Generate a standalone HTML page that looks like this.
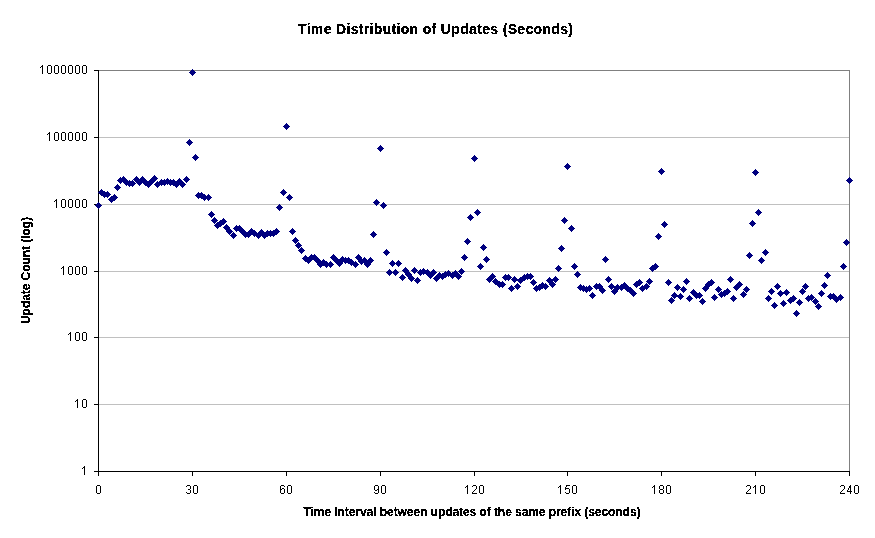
<!DOCTYPE html>
<html><head><meta charset="utf-8"><style>
html,body{margin:0;padding:0;background:#fff;}
svg{display:block;}
#yt{position:absolute;left:16px;top:326px;transform-origin:0 0;transform:rotate(-90deg);will-change:transform;}
text{font-family:"Liberation Sans",sans-serif;fill:#000;}
.lab{font-size:12px;letter-spacing:0.33px;}
.ttl{font-size:14px;font-weight:bold;}
.ax{font-size:12px;font-weight:bold;}
</style></head><body>
<svg width="875" height="538" viewBox="0 0 875 538">
<defs><filter id="al" x="-5%" y="-20%" width="110%" height="140%" color-interpolation-filters="sRGB"><feComponentTransfer><feFuncA type="discrete" tableValues="0 1 1"/></feComponentTransfer></filter></defs>
<rect width="875" height="538" fill="#fff"/>
<line x1="98" y1="70.5" x2="850" y2="70.5" stroke="#808080" stroke-width="1"/>
<line x1="98" y1="137.5" x2="850" y2="137.5" stroke="#C0C0C0" stroke-width="1"/>
<line x1="98" y1="204.5" x2="850" y2="204.5" stroke="#C0C0C0" stroke-width="1"/>
<line x1="98" y1="271.5" x2="850" y2="271.5" stroke="#C0C0C0" stroke-width="1"/>
<line x1="98" y1="337.5" x2="850" y2="337.5" stroke="#C0C0C0" stroke-width="1"/>
<line x1="98" y1="404.5" x2="850" y2="404.5" stroke="#C0C0C0" stroke-width="1"/>
<line x1="849.5" y1="70" x2="849.5" y2="471" stroke="#808080" stroke-width="1"/>
<line x1="98.5" y1="70" x2="98.5" y2="472" stroke="#000" stroke-width="1"/>
<line x1="98" y1="471.5" x2="850" y2="471.5" stroke="#000" stroke-width="1"/>
<line x1="94" y1="70.5" x2="99" y2="70.5" stroke="#000" stroke-width="1"/>
<line x1="94" y1="137.5" x2="99" y2="137.5" stroke="#000" stroke-width="1"/>
<line x1="94" y1="204.5" x2="99" y2="204.5" stroke="#000" stroke-width="1"/>
<line x1="94" y1="271.5" x2="99" y2="271.5" stroke="#000" stroke-width="1"/>
<line x1="94" y1="337.5" x2="99" y2="337.5" stroke="#000" stroke-width="1"/>
<line x1="94" y1="404.5" x2="99" y2="404.5" stroke="#000" stroke-width="1"/>
<line x1="94" y1="471.5" x2="99" y2="471.5" stroke="#000" stroke-width="1"/>
<line x1="98.5" y1="471" x2="98.5" y2="476" stroke="#000" stroke-width="1"/>
<line x1="192.5" y1="471" x2="192.5" y2="476" stroke="#000" stroke-width="1"/>
<line x1="286.5" y1="471" x2="286.5" y2="476" stroke="#000" stroke-width="1"/>
<line x1="380.5" y1="471" x2="380.5" y2="476" stroke="#000" stroke-width="1"/>
<line x1="474.5" y1="471" x2="474.5" y2="476" stroke="#000" stroke-width="1"/>
<line x1="567.5" y1="471" x2="567.5" y2="476" stroke="#000" stroke-width="1"/>
<line x1="661.5" y1="471" x2="661.5" y2="476" stroke="#000" stroke-width="1"/>
<line x1="755.5" y1="471" x2="755.5" y2="476" stroke="#000" stroke-width="1"/>
<line x1="849.5" y1="471" x2="849.5" y2="476" stroke="#000" stroke-width="1"/>
<path d="M42 65h1v1h-1zM41 66h2v1h-2zM40 67h1v1h-1zM42 67h1v1h-1zM42 68h1v1h-1zM42 69h1v1h-1zM42 70h1v1h-1zM42 71h1v1h-1zM42 72h1v1h-1zM42 73h1v1h-1zM48 65h3v1h-3zM47 66h1v1h-1zM51 66h1v1h-1zM47 67h1v1h-1zM51 67h1v1h-1zM47 68h1v1h-1zM51 68h1v1h-1zM47 69h1v1h-1zM51 69h1v1h-1zM47 70h1v1h-1zM51 70h1v1h-1zM47 71h1v1h-1zM51 71h1v1h-1zM47 72h1v1h-1zM51 72h1v1h-1zM48 73h3v1h-3zM55 65h3v1h-3zM54 66h1v1h-1zM58 66h1v1h-1zM54 67h1v1h-1zM58 67h1v1h-1zM54 68h1v1h-1zM58 68h1v1h-1zM54 69h1v1h-1zM58 69h1v1h-1zM54 70h1v1h-1zM58 70h1v1h-1zM54 71h1v1h-1zM58 71h1v1h-1zM54 72h1v1h-1zM58 72h1v1h-1zM55 73h3v1h-3zM62 65h3v1h-3zM61 66h1v1h-1zM65 66h1v1h-1zM61 67h1v1h-1zM65 67h1v1h-1zM61 68h1v1h-1zM65 68h1v1h-1zM61 69h1v1h-1zM65 69h1v1h-1zM61 70h1v1h-1zM65 70h1v1h-1zM61 71h1v1h-1zM65 71h1v1h-1zM61 72h1v1h-1zM65 72h1v1h-1zM62 73h3v1h-3zM69 65h3v1h-3zM68 66h1v1h-1zM72 66h1v1h-1zM68 67h1v1h-1zM72 67h1v1h-1zM68 68h1v1h-1zM72 68h1v1h-1zM68 69h1v1h-1zM72 69h1v1h-1zM68 70h1v1h-1zM72 70h1v1h-1zM68 71h1v1h-1zM72 71h1v1h-1zM68 72h1v1h-1zM72 72h1v1h-1zM69 73h3v1h-3zM76 65h3v1h-3zM75 66h1v1h-1zM79 66h1v1h-1zM75 67h1v1h-1zM79 67h1v1h-1zM75 68h1v1h-1zM79 68h1v1h-1zM75 69h1v1h-1zM79 69h1v1h-1zM75 70h1v1h-1zM79 70h1v1h-1zM75 71h1v1h-1zM79 71h1v1h-1zM75 72h1v1h-1zM79 72h1v1h-1zM76 73h3v1h-3zM83 65h3v1h-3zM82 66h1v1h-1zM86 66h1v1h-1zM82 67h1v1h-1zM86 67h1v1h-1zM82 68h1v1h-1zM86 68h1v1h-1zM82 69h1v1h-1zM86 69h1v1h-1zM82 70h1v1h-1zM86 70h1v1h-1zM82 71h1v1h-1zM86 71h1v1h-1zM82 72h1v1h-1zM86 72h1v1h-1zM83 73h3v1h-3zM49 132h1v1h-1zM48 133h2v1h-2zM47 134h1v1h-1zM49 134h1v1h-1zM49 135h1v1h-1zM49 136h1v1h-1zM49 137h1v1h-1zM49 138h1v1h-1zM49 139h1v1h-1zM49 140h1v1h-1zM55 132h3v1h-3zM54 133h1v1h-1zM58 133h1v1h-1zM54 134h1v1h-1zM58 134h1v1h-1zM54 135h1v1h-1zM58 135h1v1h-1zM54 136h1v1h-1zM58 136h1v1h-1zM54 137h1v1h-1zM58 137h1v1h-1zM54 138h1v1h-1zM58 138h1v1h-1zM54 139h1v1h-1zM58 139h1v1h-1zM55 140h3v1h-3zM62 132h3v1h-3zM61 133h1v1h-1zM65 133h1v1h-1zM61 134h1v1h-1zM65 134h1v1h-1zM61 135h1v1h-1zM65 135h1v1h-1zM61 136h1v1h-1zM65 136h1v1h-1zM61 137h1v1h-1zM65 137h1v1h-1zM61 138h1v1h-1zM65 138h1v1h-1zM61 139h1v1h-1zM65 139h1v1h-1zM62 140h3v1h-3zM69 132h3v1h-3zM68 133h1v1h-1zM72 133h1v1h-1zM68 134h1v1h-1zM72 134h1v1h-1zM68 135h1v1h-1zM72 135h1v1h-1zM68 136h1v1h-1zM72 136h1v1h-1zM68 137h1v1h-1zM72 137h1v1h-1zM68 138h1v1h-1zM72 138h1v1h-1zM68 139h1v1h-1zM72 139h1v1h-1zM69 140h3v1h-3zM76 132h3v1h-3zM75 133h1v1h-1zM79 133h1v1h-1zM75 134h1v1h-1zM79 134h1v1h-1zM75 135h1v1h-1zM79 135h1v1h-1zM75 136h1v1h-1zM79 136h1v1h-1zM75 137h1v1h-1zM79 137h1v1h-1zM75 138h1v1h-1zM79 138h1v1h-1zM75 139h1v1h-1zM79 139h1v1h-1zM76 140h3v1h-3zM83 132h3v1h-3zM82 133h1v1h-1zM86 133h1v1h-1zM82 134h1v1h-1zM86 134h1v1h-1zM82 135h1v1h-1zM86 135h1v1h-1zM82 136h1v1h-1zM86 136h1v1h-1zM82 137h1v1h-1zM86 137h1v1h-1zM82 138h1v1h-1zM86 138h1v1h-1zM82 139h1v1h-1zM86 139h1v1h-1zM83 140h3v1h-3zM56 199h1v1h-1zM55 200h2v1h-2zM54 201h1v1h-1zM56 201h1v1h-1zM56 202h1v1h-1zM56 203h1v1h-1zM56 204h1v1h-1zM56 205h1v1h-1zM56 206h1v1h-1zM56 207h1v1h-1zM62 199h3v1h-3zM61 200h1v1h-1zM65 200h1v1h-1zM61 201h1v1h-1zM65 201h1v1h-1zM61 202h1v1h-1zM65 202h1v1h-1zM61 203h1v1h-1zM65 203h1v1h-1zM61 204h1v1h-1zM65 204h1v1h-1zM61 205h1v1h-1zM65 205h1v1h-1zM61 206h1v1h-1zM65 206h1v1h-1zM62 207h3v1h-3zM69 199h3v1h-3zM68 200h1v1h-1zM72 200h1v1h-1zM68 201h1v1h-1zM72 201h1v1h-1zM68 202h1v1h-1zM72 202h1v1h-1zM68 203h1v1h-1zM72 203h1v1h-1zM68 204h1v1h-1zM72 204h1v1h-1zM68 205h1v1h-1zM72 205h1v1h-1zM68 206h1v1h-1zM72 206h1v1h-1zM69 207h3v1h-3zM76 199h3v1h-3zM75 200h1v1h-1zM79 200h1v1h-1zM75 201h1v1h-1zM79 201h1v1h-1zM75 202h1v1h-1zM79 202h1v1h-1zM75 203h1v1h-1zM79 203h1v1h-1zM75 204h1v1h-1zM79 204h1v1h-1zM75 205h1v1h-1zM79 205h1v1h-1zM75 206h1v1h-1zM79 206h1v1h-1zM76 207h3v1h-3zM83 199h3v1h-3zM82 200h1v1h-1zM86 200h1v1h-1zM82 201h1v1h-1zM86 201h1v1h-1zM82 202h1v1h-1zM86 202h1v1h-1zM82 203h1v1h-1zM86 203h1v1h-1zM82 204h1v1h-1zM86 204h1v1h-1zM82 205h1v1h-1zM86 205h1v1h-1zM82 206h1v1h-1zM86 206h1v1h-1zM83 207h3v1h-3zM63 266h1v1h-1zM62 267h2v1h-2zM61 268h1v1h-1zM63 268h1v1h-1zM63 269h1v1h-1zM63 270h1v1h-1zM63 271h1v1h-1zM63 272h1v1h-1zM63 273h1v1h-1zM63 274h1v1h-1zM69 266h3v1h-3zM68 267h1v1h-1zM72 267h1v1h-1zM68 268h1v1h-1zM72 268h1v1h-1zM68 269h1v1h-1zM72 269h1v1h-1zM68 270h1v1h-1zM72 270h1v1h-1zM68 271h1v1h-1zM72 271h1v1h-1zM68 272h1v1h-1zM72 272h1v1h-1zM68 273h1v1h-1zM72 273h1v1h-1zM69 274h3v1h-3zM76 266h3v1h-3zM75 267h1v1h-1zM79 267h1v1h-1zM75 268h1v1h-1zM79 268h1v1h-1zM75 269h1v1h-1zM79 269h1v1h-1zM75 270h1v1h-1zM79 270h1v1h-1zM75 271h1v1h-1zM79 271h1v1h-1zM75 272h1v1h-1zM79 272h1v1h-1zM75 273h1v1h-1zM79 273h1v1h-1zM76 274h3v1h-3zM83 266h3v1h-3zM82 267h1v1h-1zM86 267h1v1h-1zM82 268h1v1h-1zM86 268h1v1h-1zM82 269h1v1h-1zM86 269h1v1h-1zM82 270h1v1h-1zM86 270h1v1h-1zM82 271h1v1h-1zM86 271h1v1h-1zM82 272h1v1h-1zM86 272h1v1h-1zM82 273h1v1h-1zM86 273h1v1h-1zM83 274h3v1h-3zM70 332h1v1h-1zM69 333h2v1h-2zM68 334h1v1h-1zM70 334h1v1h-1zM70 335h1v1h-1zM70 336h1v1h-1zM70 337h1v1h-1zM70 338h1v1h-1zM70 339h1v1h-1zM70 340h1v1h-1zM76 332h3v1h-3zM75 333h1v1h-1zM79 333h1v1h-1zM75 334h1v1h-1zM79 334h1v1h-1zM75 335h1v1h-1zM79 335h1v1h-1zM75 336h1v1h-1zM79 336h1v1h-1zM75 337h1v1h-1zM79 337h1v1h-1zM75 338h1v1h-1zM79 338h1v1h-1zM75 339h1v1h-1zM79 339h1v1h-1zM76 340h3v1h-3zM83 332h3v1h-3zM82 333h1v1h-1zM86 333h1v1h-1zM82 334h1v1h-1zM86 334h1v1h-1zM82 335h1v1h-1zM86 335h1v1h-1zM82 336h1v1h-1zM86 336h1v1h-1zM82 337h1v1h-1zM86 337h1v1h-1zM82 338h1v1h-1zM86 338h1v1h-1zM82 339h1v1h-1zM86 339h1v1h-1zM83 340h3v1h-3zM77 399h1v1h-1zM76 400h2v1h-2zM75 401h1v1h-1zM77 401h1v1h-1zM77 402h1v1h-1zM77 403h1v1h-1zM77 404h1v1h-1zM77 405h1v1h-1zM77 406h1v1h-1zM77 407h1v1h-1zM83 399h3v1h-3zM82 400h1v1h-1zM86 400h1v1h-1zM82 401h1v1h-1zM86 401h1v1h-1zM82 402h1v1h-1zM86 402h1v1h-1zM82 403h1v1h-1zM86 403h1v1h-1zM82 404h1v1h-1zM86 404h1v1h-1zM82 405h1v1h-1zM86 405h1v1h-1zM82 406h1v1h-1zM86 406h1v1h-1zM83 407h3v1h-3zM84 466h1v1h-1zM83 467h2v1h-2zM82 468h1v1h-1zM84 468h1v1h-1zM84 469h1v1h-1zM84 470h1v1h-1zM84 471h1v1h-1zM84 472h1v1h-1zM84 473h1v1h-1zM84 474h1v1h-1zM97 485h3v1h-3zM96 486h1v1h-1zM100 486h1v1h-1zM96 487h1v1h-1zM100 487h1v1h-1zM96 488h1v1h-1zM100 488h1v1h-1zM96 489h1v1h-1zM100 489h1v1h-1zM96 490h1v1h-1zM100 490h1v1h-1zM96 491h1v1h-1zM100 491h1v1h-1zM96 492h1v1h-1zM100 492h1v1h-1zM97 493h3v1h-3zM187 485h3v1h-3zM186 486h1v1h-1zM190 486h1v1h-1zM190 487h1v1h-1zM190 488h1v1h-1zM188 489h2v1h-2zM190 490h1v1h-1zM190 491h1v1h-1zM186 492h1v1h-1zM190 492h1v1h-1zM187 493h3v1h-3zM194 485h3v1h-3zM193 486h1v1h-1zM197 486h1v1h-1zM193 487h1v1h-1zM197 487h1v1h-1zM193 488h1v1h-1zM197 488h1v1h-1zM193 489h1v1h-1zM197 489h1v1h-1zM193 490h1v1h-1zM197 490h1v1h-1zM193 491h1v1h-1zM197 491h1v1h-1zM193 492h1v1h-1zM197 492h1v1h-1zM194 493h3v1h-3zM281 485h3v1h-3zM280 486h1v1h-1zM284 486h1v1h-1zM280 487h1v1h-1zM280 488h1v1h-1zM282 488h2v1h-2zM280 489h2v1h-2zM284 489h1v1h-1zM280 490h1v1h-1zM284 490h1v1h-1zM280 491h1v1h-1zM284 491h1v1h-1zM280 492h1v1h-1zM284 492h1v1h-1zM281 493h3v1h-3zM288 485h3v1h-3zM287 486h1v1h-1zM291 486h1v1h-1zM287 487h1v1h-1zM291 487h1v1h-1zM287 488h1v1h-1zM291 488h1v1h-1zM287 489h1v1h-1zM291 489h1v1h-1zM287 490h1v1h-1zM291 490h1v1h-1zM287 491h1v1h-1zM291 491h1v1h-1zM287 492h1v1h-1zM291 492h1v1h-1zM288 493h3v1h-3zM375 485h3v1h-3zM374 486h1v1h-1zM378 486h1v1h-1zM374 487h1v1h-1zM378 487h1v1h-1zM374 488h1v1h-1zM378 488h1v1h-1zM374 489h1v1h-1zM377 489h2v1h-2zM375 490h2v1h-2zM378 490h1v1h-1zM378 491h1v1h-1zM374 492h1v1h-1zM378 492h1v1h-1zM375 493h3v1h-3zM382 485h3v1h-3zM381 486h1v1h-1zM385 486h1v1h-1zM381 487h1v1h-1zM385 487h1v1h-1zM381 488h1v1h-1zM385 488h1v1h-1zM381 489h1v1h-1zM385 489h1v1h-1zM381 490h1v1h-1zM385 490h1v1h-1zM381 491h1v1h-1zM385 491h1v1h-1zM381 492h1v1h-1zM385 492h1v1h-1zM382 493h3v1h-3zM467 485h1v1h-1zM466 486h2v1h-2zM465 487h1v1h-1zM467 487h1v1h-1zM467 488h1v1h-1zM467 489h1v1h-1zM467 490h1v1h-1zM467 491h1v1h-1zM467 492h1v1h-1zM467 493h1v1h-1zM473 485h3v1h-3zM472 486h1v1h-1zM476 486h1v1h-1zM476 487h1v1h-1zM476 488h1v1h-1zM475 489h1v1h-1zM474 490h1v1h-1zM473 491h1v1h-1zM472 492h1v1h-1zM472 493h5v1h-5zM480 485h3v1h-3zM479 486h1v1h-1zM483 486h1v1h-1zM479 487h1v1h-1zM483 487h1v1h-1zM479 488h1v1h-1zM483 488h1v1h-1zM479 489h1v1h-1zM483 489h1v1h-1zM479 490h1v1h-1zM483 490h1v1h-1zM479 491h1v1h-1zM483 491h1v1h-1zM479 492h1v1h-1zM483 492h1v1h-1zM480 493h3v1h-3zM560 485h1v1h-1zM559 486h2v1h-2zM558 487h1v1h-1zM560 487h1v1h-1zM560 488h1v1h-1zM560 489h1v1h-1zM560 490h1v1h-1zM560 491h1v1h-1zM560 492h1v1h-1zM560 493h1v1h-1zM566 485h4v1h-4zM566 486h1v1h-1zM565 487h1v1h-1zM565 488h4v1h-4zM565 489h1v1h-1zM569 489h1v1h-1zM569 490h1v1h-1zM569 491h1v1h-1zM565 492h1v1h-1zM569 492h1v1h-1zM566 493h3v1h-3zM573 485h3v1h-3zM572 486h1v1h-1zM576 486h1v1h-1zM572 487h1v1h-1zM576 487h1v1h-1zM572 488h1v1h-1zM576 488h1v1h-1zM572 489h1v1h-1zM576 489h1v1h-1zM572 490h1v1h-1zM576 490h1v1h-1zM572 491h1v1h-1zM576 491h1v1h-1zM572 492h1v1h-1zM576 492h1v1h-1zM573 493h3v1h-3zM654 485h1v1h-1zM653 486h2v1h-2zM652 487h1v1h-1zM654 487h1v1h-1zM654 488h1v1h-1zM654 489h1v1h-1zM654 490h1v1h-1zM654 491h1v1h-1zM654 492h1v1h-1zM654 493h1v1h-1zM660 485h3v1h-3zM659 486h1v1h-1zM663 486h1v1h-1zM659 487h1v1h-1zM663 487h1v1h-1zM659 488h1v1h-1zM663 488h1v1h-1zM660 489h3v1h-3zM659 490h1v1h-1zM663 490h1v1h-1zM659 491h1v1h-1zM663 491h1v1h-1zM659 492h1v1h-1zM663 492h1v1h-1zM660 493h3v1h-3zM667 485h3v1h-3zM666 486h1v1h-1zM670 486h1v1h-1zM666 487h1v1h-1zM670 487h1v1h-1zM666 488h1v1h-1zM670 488h1v1h-1zM666 489h1v1h-1zM670 489h1v1h-1zM666 490h1v1h-1zM670 490h1v1h-1zM666 491h1v1h-1zM670 491h1v1h-1zM666 492h1v1h-1zM670 492h1v1h-1zM667 493h3v1h-3zM747 485h3v1h-3zM746 486h1v1h-1zM750 486h1v1h-1zM750 487h1v1h-1zM750 488h1v1h-1zM749 489h1v1h-1zM748 490h1v1h-1zM747 491h1v1h-1zM746 492h1v1h-1zM746 493h5v1h-5zM755 485h1v1h-1zM754 486h2v1h-2zM753 487h1v1h-1zM755 487h1v1h-1zM755 488h1v1h-1zM755 489h1v1h-1zM755 490h1v1h-1zM755 491h1v1h-1zM755 492h1v1h-1zM755 493h1v1h-1zM761 485h3v1h-3zM760 486h1v1h-1zM764 486h1v1h-1zM760 487h1v1h-1zM764 487h1v1h-1zM760 488h1v1h-1zM764 488h1v1h-1zM760 489h1v1h-1zM764 489h1v1h-1zM760 490h1v1h-1zM764 490h1v1h-1zM760 491h1v1h-1zM764 491h1v1h-1zM760 492h1v1h-1zM764 492h1v1h-1zM761 493h3v1h-3zM841 485h3v1h-3zM840 486h1v1h-1zM844 486h1v1h-1zM844 487h1v1h-1zM844 488h1v1h-1zM843 489h1v1h-1zM842 490h1v1h-1zM841 491h1v1h-1zM840 492h1v1h-1zM840 493h5v1h-5zM850 485h1v1h-1zM849 486h2v1h-2zM849 487h2v1h-2zM848 488h1v1h-1zM850 488h1v1h-1zM848 489h1v1h-1zM850 489h1v1h-1zM847 490h1v1h-1zM850 490h1v1h-1zM847 491h5v1h-5zM850 492h1v1h-1zM850 493h1v1h-1zM855 485h3v1h-3zM854 486h1v1h-1zM858 486h1v1h-1zM854 487h1v1h-1zM858 487h1v1h-1zM854 488h1v1h-1zM858 488h1v1h-1zM854 489h1v1h-1zM858 489h1v1h-1zM854 490h1v1h-1zM858 490h1v1h-1zM854 491h1v1h-1zM858 491h1v1h-1zM854 492h1v1h-1zM858 492h1v1h-1zM855 493h3v1h-3z" fill="#000" shape-rendering="crispEdges"/>
<path d="M98 202h1v1h1v1h1v1h1v1h-1v1h-1v1h-1v1h-1v-1h-1v-1h-1v-1h-1v-1h1v-1h1v-1h1zM101 189h1v1h1v1h1v1h1v1h-1v1h-1v1h-1v1h-1v-1h-1v-1h-1v-1h-1v-1h1v-1h1v-1h1zM104 191h1v1h1v1h1v1h1v1h-1v1h-1v1h-1v1h-1v-1h-1v-1h-1v-1h-1v-1h1v-1h1v-1h1zM107 191h1v1h1v1h1v1h1v1h-1v1h-1v1h-1v1h-1v-1h-1v-1h-1v-1h-1v-1h1v-1h1v-1h1zM111 196h1v1h1v1h1v1h1v1h-1v1h-1v1h-1v1h-1v-1h-1v-1h-1v-1h-1v-1h1v-1h1v-1h1zM114 194h1v1h1v1h1v1h1v1h-1v1h-1v1h-1v1h-1v-1h-1v-1h-1v-1h-1v-1h1v-1h1v-1h1zM117 184h1v1h1v1h1v1h1v1h-1v1h-1v1h-1v1h-1v-1h-1v-1h-1v-1h-1v-1h1v-1h1v-1h1zM120 177h1v1h1v1h1v1h1v1h-1v1h-1v1h-1v1h-1v-1h-1v-1h-1v-1h-1v-1h1v-1h1v-1h1zM123 176h1v1h1v1h1v1h1v1h-1v1h-1v1h-1v1h-1v-1h-1v-1h-1v-1h-1v-1h1v-1h1v-1h1zM126 179h1v1h1v1h1v1h1v1h-1v1h-1v1h-1v1h-1v-1h-1v-1h-1v-1h-1v-1h1v-1h1v-1h1zM129 180h1v1h1v1h1v1h1v1h-1v1h-1v1h-1v1h-1v-1h-1v-1h-1v-1h-1v-1h1v-1h1v-1h1zM132 180h1v1h1v1h1v1h1v1h-1v1h-1v1h-1v1h-1v-1h-1v-1h-1v-1h-1v-1h1v-1h1v-1h1zM136 176h1v1h1v1h1v1h1v1h-1v1h-1v1h-1v1h-1v-1h-1v-1h-1v-1h-1v-1h1v-1h1v-1h1zM139 179h1v1h1v1h1v1h1v1h-1v1h-1v1h-1v1h-1v-1h-1v-1h-1v-1h-1v-1h1v-1h1v-1h1zM142 176h1v1h1v1h1v1h1v1h-1v1h-1v1h-1v1h-1v-1h-1v-1h-1v-1h-1v-1h1v-1h1v-1h1zM145 179h1v1h1v1h1v1h1v1h-1v1h-1v1h-1v1h-1v-1h-1v-1h-1v-1h-1v-1h1v-1h1v-1h1zM148 181h1v1h1v1h1v1h1v1h-1v1h-1v1h-1v1h-1v-1h-1v-1h-1v-1h-1v-1h1v-1h1v-1h1zM151 178h1v1h1v1h1v1h1v1h-1v1h-1v1h-1v1h-1v-1h-1v-1h-1v-1h-1v-1h1v-1h1v-1h1zM154 175h1v1h1v1h1v1h1v1h-1v1h-1v1h-1v1h-1v-1h-1v-1h-1v-1h-1v-1h1v-1h1v-1h1zM157 181h1v1h1v1h1v1h1v1h-1v1h-1v1h-1v1h-1v-1h-1v-1h-1v-1h-1v-1h1v-1h1v-1h1zM161 179h1v1h1v1h1v1h1v1h-1v1h-1v1h-1v1h-1v-1h-1v-1h-1v-1h-1v-1h1v-1h1v-1h1zM164 179h1v1h1v1h1v1h1v1h-1v1h-1v1h-1v1h-1v-1h-1v-1h-1v-1h-1v-1h1v-1h1v-1h1zM167 178h1v1h1v1h1v1h1v1h-1v1h-1v1h-1v1h-1v-1h-1v-1h-1v-1h-1v-1h1v-1h1v-1h1zM170 179h1v1h1v1h1v1h1v1h-1v1h-1v1h-1v1h-1v-1h-1v-1h-1v-1h-1v-1h1v-1h1v-1h1zM173 179h1v1h1v1h1v1h1v1h-1v1h-1v1h-1v1h-1v-1h-1v-1h-1v-1h-1v-1h1v-1h1v-1h1zM176 181h1v1h1v1h1v1h1v1h-1v1h-1v1h-1v1h-1v-1h-1v-1h-1v-1h-1v-1h1v-1h1v-1h1zM179 178h1v1h1v1h1v1h1v1h-1v1h-1v1h-1v1h-1v-1h-1v-1h-1v-1h-1v-1h1v-1h1v-1h1zM182 181h1v1h1v1h1v1h1v1h-1v1h-1v1h-1v1h-1v-1h-1v-1h-1v-1h-1v-1h1v-1h1v-1h1zM186 176h1v1h1v1h1v1h1v1h-1v1h-1v1h-1v1h-1v-1h-1v-1h-1v-1h-1v-1h1v-1h1v-1h1zM189 139h1v1h1v1h1v1h1v1h-1v1h-1v1h-1v1h-1v-1h-1v-1h-1v-1h-1v-1h1v-1h1v-1h1zM192 69h1v1h1v1h1v1h1v1h-1v1h-1v1h-1v1h-1v-1h-1v-1h-1v-1h-1v-1h1v-1h1v-1h1zM195 154h1v1h1v1h1v1h1v1h-1v1h-1v1h-1v1h-1v-1h-1v-1h-1v-1h-1v-1h1v-1h1v-1h1zM198 192h1v1h1v1h1v1h1v1h-1v1h-1v1h-1v1h-1v-1h-1v-1h-1v-1h-1v-1h1v-1h1v-1h1zM201 192h1v1h1v1h1v1h1v1h-1v1h-1v1h-1v1h-1v-1h-1v-1h-1v-1h-1v-1h1v-1h1v-1h1zM204 194h1v1h1v1h1v1h1v1h-1v1h-1v1h-1v1h-1v-1h-1v-1h-1v-1h-1v-1h1v-1h1v-1h1zM208 194h1v1h1v1h1v1h1v1h-1v1h-1v1h-1v1h-1v-1h-1v-1h-1v-1h-1v-1h1v-1h1v-1h1zM211 211h1v1h1v1h1v1h1v1h-1v1h-1v1h-1v1h-1v-1h-1v-1h-1v-1h-1v-1h1v-1h1v-1h1zM214 217h1v1h1v1h1v1h1v1h-1v1h-1v1h-1v1h-1v-1h-1v-1h-1v-1h-1v-1h1v-1h1v-1h1zM217 222h1v1h1v1h1v1h1v1h-1v1h-1v1h-1v1h-1v-1h-1v-1h-1v-1h-1v-1h1v-1h1v-1h1zM220 220h1v1h1v1h1v1h1v1h-1v1h-1v1h-1v1h-1v-1h-1v-1h-1v-1h-1v-1h1v-1h1v-1h1zM223 218h1v1h1v1h1v1h1v1h-1v1h-1v1h-1v1h-1v-1h-1v-1h-1v-1h-1v-1h1v-1h1v-1h1zM226 224h1v1h1v1h1v1h1v1h-1v1h-1v1h-1v1h-1v-1h-1v-1h-1v-1h-1v-1h1v-1h1v-1h1zM229 228h1v1h1v1h1v1h1v1h-1v1h-1v1h-1v1h-1v-1h-1v-1h-1v-1h-1v-1h1v-1h1v-1h1zM233 232h1v1h1v1h1v1h1v1h-1v1h-1v1h-1v1h-1v-1h-1v-1h-1v-1h-1v-1h1v-1h1v-1h1zM236 225h1v1h1v1h1v1h1v1h-1v1h-1v1h-1v1h-1v-1h-1v-1h-1v-1h-1v-1h1v-1h1v-1h1zM239 225h1v1h1v1h1v1h1v1h-1v1h-1v1h-1v1h-1v-1h-1v-1h-1v-1h-1v-1h1v-1h1v-1h1zM242 228h1v1h1v1h1v1h1v1h-1v1h-1v1h-1v1h-1v-1h-1v-1h-1v-1h-1v-1h1v-1h1v-1h1zM245 231h1v1h1v1h1v1h1v1h-1v1h-1v1h-1v1h-1v-1h-1v-1h-1v-1h-1v-1h1v-1h1v-1h1zM248 231h1v1h1v1h1v1h1v1h-1v1h-1v1h-1v1h-1v-1h-1v-1h-1v-1h-1v-1h1v-1h1v-1h1zM251 228h1v1h1v1h1v1h1v1h-1v1h-1v1h-1v1h-1v-1h-1v-1h-1v-1h-1v-1h1v-1h1v-1h1zM254 230h1v1h1v1h1v1h1v1h-1v1h-1v1h-1v1h-1v-1h-1v-1h-1v-1h-1v-1h1v-1h1v-1h1zM258 232h1v1h1v1h1v1h1v1h-1v1h-1v1h-1v1h-1v-1h-1v-1h-1v-1h-1v-1h1v-1h1v-1h1zM261 229h1v1h1v1h1v1h1v1h-1v1h-1v1h-1v1h-1v-1h-1v-1h-1v-1h-1v-1h1v-1h1v-1h1zM264 232h1v1h1v1h1v1h1v1h-1v1h-1v1h-1v1h-1v-1h-1v-1h-1v-1h-1v-1h1v-1h1v-1h1zM267 230h1v1h1v1h1v1h1v1h-1v1h-1v1h-1v1h-1v-1h-1v-1h-1v-1h-1v-1h1v-1h1v-1h1zM270 230h1v1h1v1h1v1h1v1h-1v1h-1v1h-1v1h-1v-1h-1v-1h-1v-1h-1v-1h1v-1h1v-1h1zM273 230h1v1h1v1h1v1h1v1h-1v1h-1v1h-1v1h-1v-1h-1v-1h-1v-1h-1v-1h1v-1h1v-1h1zM276 228h1v1h1v1h1v1h1v1h-1v1h-1v1h-1v1h-1v-1h-1v-1h-1v-1h-1v-1h1v-1h1v-1h1zM279 204h1v1h1v1h1v1h1v1h-1v1h-1v1h-1v1h-1v-1h-1v-1h-1v-1h-1v-1h1v-1h1v-1h1zM283 189h1v1h1v1h1v1h1v1h-1v1h-1v1h-1v1h-1v-1h-1v-1h-1v-1h-1v-1h1v-1h1v-1h1zM286 123h1v1h1v1h1v1h1v1h-1v1h-1v1h-1v1h-1v-1h-1v-1h-1v-1h-1v-1h1v-1h1v-1h1zM289 194h1v1h1v1h1v1h1v1h-1v1h-1v1h-1v1h-1v-1h-1v-1h-1v-1h-1v-1h1v-1h1v-1h1zM292 228h1v1h1v1h1v1h1v1h-1v1h-1v1h-1v1h-1v-1h-1v-1h-1v-1h-1v-1h1v-1h1v-1h1zM295 237h1v1h1v1h1v1h1v1h-1v1h-1v1h-1v1h-1v-1h-1v-1h-1v-1h-1v-1h1v-1h1v-1h1zM298 242h1v1h1v1h1v1h1v1h-1v1h-1v1h-1v1h-1v-1h-1v-1h-1v-1h-1v-1h1v-1h1v-1h1zM301 247h1v1h1v1h1v1h1v1h-1v1h-1v1h-1v1h-1v-1h-1v-1h-1v-1h-1v-1h1v-1h1v-1h1zM305 255h1v1h1v1h1v1h1v1h-1v1h-1v1h-1v1h-1v-1h-1v-1h-1v-1h-1v-1h1v-1h1v-1h1zM308 257h1v1h1v1h1v1h1v1h-1v1h-1v1h-1v1h-1v-1h-1v-1h-1v-1h-1v-1h1v-1h1v-1h1zM311 254h1v1h1v1h1v1h1v1h-1v1h-1v1h-1v1h-1v-1h-1v-1h-1v-1h-1v-1h1v-1h1v-1h1zM314 254h1v1h1v1h1v1h1v1h-1v1h-1v1h-1v1h-1v-1h-1v-1h-1v-1h-1v-1h1v-1h1v-1h1zM317 257h1v1h1v1h1v1h1v1h-1v1h-1v1h-1v1h-1v-1h-1v-1h-1v-1h-1v-1h1v-1h1v-1h1zM320 261h1v1h1v1h1v1h1v1h-1v1h-1v1h-1v1h-1v-1h-1v-1h-1v-1h-1v-1h1v-1h1v-1h1zM323 259h1v1h1v1h1v1h1v1h-1v1h-1v1h-1v1h-1v-1h-1v-1h-1v-1h-1v-1h1v-1h1v-1h1zM326 261h1v1h1v1h1v1h1v1h-1v1h-1v1h-1v1h-1v-1h-1v-1h-1v-1h-1v-1h1v-1h1v-1h1zM330 261h1v1h1v1h1v1h1v1h-1v1h-1v1h-1v1h-1v-1h-1v-1h-1v-1h-1v-1h1v-1h1v-1h1zM333 254h1v1h1v1h1v1h1v1h-1v1h-1v1h-1v1h-1v-1h-1v-1h-1v-1h-1v-1h1v-1h1v-1h1zM336 257h1v1h1v1h1v1h1v1h-1v1h-1v1h-1v1h-1v-1h-1v-1h-1v-1h-1v-1h1v-1h1v-1h1zM339 260h1v1h1v1h1v1h1v1h-1v1h-1v1h-1v1h-1v-1h-1v-1h-1v-1h-1v-1h1v-1h1v-1h1zM342 256h1v1h1v1h1v1h1v1h-1v1h-1v1h-1v1h-1v-1h-1v-1h-1v-1h-1v-1h1v-1h1v-1h1zM345 257h1v1h1v1h1v1h1v1h-1v1h-1v1h-1v1h-1v-1h-1v-1h-1v-1h-1v-1h1v-1h1v-1h1zM348 257h1v1h1v1h1v1h1v1h-1v1h-1v1h-1v1h-1v-1h-1v-1h-1v-1h-1v-1h1v-1h1v-1h1zM351 259h1v1h1v1h1v1h1v1h-1v1h-1v1h-1v1h-1v-1h-1v-1h-1v-1h-1v-1h1v-1h1v-1h1zM355 261h1v1h1v1h1v1h1v1h-1v1h-1v1h-1v1h-1v-1h-1v-1h-1v-1h-1v-1h1v-1h1v-1h1zM358 254h1v1h1v1h1v1h1v1h-1v1h-1v1h-1v1h-1v-1h-1v-1h-1v-1h-1v-1h1v-1h1v-1h1zM361 258h1v1h1v1h1v1h1v1h-1v1h-1v1h-1v1h-1v-1h-1v-1h-1v-1h-1v-1h1v-1h1v-1h1zM364 257h1v1h1v1h1v1h1v1h-1v1h-1v1h-1v1h-1v-1h-1v-1h-1v-1h-1v-1h1v-1h1v-1h1zM367 261h1v1h1v1h1v1h1v1h-1v1h-1v1h-1v1h-1v-1h-1v-1h-1v-1h-1v-1h1v-1h1v-1h1zM370 257h1v1h1v1h1v1h1v1h-1v1h-1v1h-1v1h-1v-1h-1v-1h-1v-1h-1v-1h1v-1h1v-1h1zM373 231h1v1h1v1h1v1h1v1h-1v1h-1v1h-1v1h-1v-1h-1v-1h-1v-1h-1v-1h1v-1h1v-1h1zM376 199h1v1h1v1h1v1h1v1h-1v1h-1v1h-1v1h-1v-1h-1v-1h-1v-1h-1v-1h1v-1h1v-1h1zM380 145h1v1h1v1h1v1h1v1h-1v1h-1v1h-1v1h-1v-1h-1v-1h-1v-1h-1v-1h1v-1h1v-1h1zM383 202h1v1h1v1h1v1h1v1h-1v1h-1v1h-1v1h-1v-1h-1v-1h-1v-1h-1v-1h1v-1h1v-1h1zM386 249h1v1h1v1h1v1h1v1h-1v1h-1v1h-1v1h-1v-1h-1v-1h-1v-1h-1v-1h1v-1h1v-1h1zM389 269h1v1h1v1h1v1h1v1h-1v1h-1v1h-1v1h-1v-1h-1v-1h-1v-1h-1v-1h1v-1h1v-1h1zM392 260h1v1h1v1h1v1h1v1h-1v1h-1v1h-1v1h-1v-1h-1v-1h-1v-1h-1v-1h1v-1h1v-1h1zM395 269h1v1h1v1h1v1h1v1h-1v1h-1v1h-1v1h-1v-1h-1v-1h-1v-1h-1v-1h1v-1h1v-1h1zM398 260h1v1h1v1h1v1h1v1h-1v1h-1v1h-1v1h-1v-1h-1v-1h-1v-1h-1v-1h1v-1h1v-1h1zM402 274h1v1h1v1h1v1h1v1h-1v1h-1v1h-1v1h-1v-1h-1v-1h-1v-1h-1v-1h1v-1h1v-1h1zM405 267h1v1h1v1h1v1h1v1h-1v1h-1v1h-1v1h-1v-1h-1v-1h-1v-1h-1v-1h1v-1h1v-1h1zM408 271h1v1h1v1h1v1h1v1h-1v1h-1v1h-1v1h-1v-1h-1v-1h-1v-1h-1v-1h1v-1h1v-1h1zM411 275h1v1h1v1h1v1h1v1h-1v1h-1v1h-1v1h-1v-1h-1v-1h-1v-1h-1v-1h1v-1h1v-1h1zM414 267h1v1h1v1h1v1h1v1h-1v1h-1v1h-1v1h-1v-1h-1v-1h-1v-1h-1v-1h1v-1h1v-1h1zM417 277h1v1h1v1h1v1h1v1h-1v1h-1v1h-1v1h-1v-1h-1v-1h-1v-1h-1v-1h1v-1h1v-1h1zM420 269h1v1h1v1h1v1h1v1h-1v1h-1v1h-1v1h-1v-1h-1v-1h-1v-1h-1v-1h1v-1h1v-1h1zM423 268h1v1h1v1h1v1h1v1h-1v1h-1v1h-1v1h-1v-1h-1v-1h-1v-1h-1v-1h1v-1h1v-1h1zM427 269h1v1h1v1h1v1h1v1h-1v1h-1v1h-1v1h-1v-1h-1v-1h-1v-1h-1v-1h1v-1h1v-1h1zM430 272h1v1h1v1h1v1h1v1h-1v1h-1v1h-1v1h-1v-1h-1v-1h-1v-1h-1v-1h1v-1h1v-1h1zM433 269h1v1h1v1h1v1h1v1h-1v1h-1v1h-1v1h-1v-1h-1v-1h-1v-1h-1v-1h1v-1h1v-1h1zM436 275h1v1h1v1h1v1h1v1h-1v1h-1v1h-1v1h-1v-1h-1v-1h-1v-1h-1v-1h1v-1h1v-1h1zM439 272h1v1h1v1h1v1h1v1h-1v1h-1v1h-1v1h-1v-1h-1v-1h-1v-1h-1v-1h1v-1h1v-1h1zM442 273h1v1h1v1h1v1h1v1h-1v1h-1v1h-1v1h-1v-1h-1v-1h-1v-1h-1v-1h1v-1h1v-1h1zM445 271h1v1h1v1h1v1h1v1h-1v1h-1v1h-1v1h-1v-1h-1v-1h-1v-1h-1v-1h1v-1h1v-1h1zM448 270h1v1h1v1h1v1h1v1h-1v1h-1v1h-1v1h-1v-1h-1v-1h-1v-1h-1v-1h1v-1h1v-1h1zM452 272h1v1h1v1h1v1h1v1h-1v1h-1v1h-1v1h-1v-1h-1v-1h-1v-1h-1v-1h1v-1h1v-1h1zM455 270h1v1h1v1h1v1h1v1h-1v1h-1v1h-1v1h-1v-1h-1v-1h-1v-1h-1v-1h1v-1h1v-1h1zM458 273h1v1h1v1h1v1h1v1h-1v1h-1v1h-1v1h-1v-1h-1v-1h-1v-1h-1v-1h1v-1h1v-1h1zM461 268h1v1h1v1h1v1h1v1h-1v1h-1v1h-1v1h-1v-1h-1v-1h-1v-1h-1v-1h1v-1h1v-1h1zM464 254h1v1h1v1h1v1h1v1h-1v1h-1v1h-1v1h-1v-1h-1v-1h-1v-1h-1v-1h1v-1h1v-1h1zM467 238h1v1h1v1h1v1h1v1h-1v1h-1v1h-1v1h-1v-1h-1v-1h-1v-1h-1v-1h1v-1h1v-1h1zM470 214h1v1h1v1h1v1h1v1h-1v1h-1v1h-1v1h-1v-1h-1v-1h-1v-1h-1v-1h1v-1h1v-1h1zM474 155h1v1h1v1h1v1h1v1h-1v1h-1v1h-1v1h-1v-1h-1v-1h-1v-1h-1v-1h1v-1h1v-1h1zM477 209h1v1h1v1h1v1h1v1h-1v1h-1v1h-1v1h-1v-1h-1v-1h-1v-1h-1v-1h1v-1h1v-1h1zM480 263h1v1h1v1h1v1h1v1h-1v1h-1v1h-1v1h-1v-1h-1v-1h-1v-1h-1v-1h1v-1h1v-1h1zM483 244h1v1h1v1h1v1h1v1h-1v1h-1v1h-1v1h-1v-1h-1v-1h-1v-1h-1v-1h1v-1h1v-1h1zM486 256h1v1h1v1h1v1h1v1h-1v1h-1v1h-1v1h-1v-1h-1v-1h-1v-1h-1v-1h1v-1h1v-1h1zM489 276h1v1h1v1h1v1h1v1h-1v1h-1v1h-1v1h-1v-1h-1v-1h-1v-1h-1v-1h1v-1h1v-1h1zM492 273h1v1h1v1h1v1h1v1h-1v1h-1v1h-1v1h-1v-1h-1v-1h-1v-1h-1v-1h1v-1h1v-1h1zM495 278h1v1h1v1h1v1h1v1h-1v1h-1v1h-1v1h-1v-1h-1v-1h-1v-1h-1v-1h1v-1h1v-1h1zM499 281h1v1h1v1h1v1h1v1h-1v1h-1v1h-1v1h-1v-1h-1v-1h-1v-1h-1v-1h1v-1h1v-1h1zM502 281h1v1h1v1h1v1h1v1h-1v1h-1v1h-1v1h-1v-1h-1v-1h-1v-1h-1v-1h1v-1h1v-1h1zM505 274h1v1h1v1h1v1h1v1h-1v1h-1v1h-1v1h-1v-1h-1v-1h-1v-1h-1v-1h1v-1h1v-1h1zM508 274h1v1h1v1h1v1h1v1h-1v1h-1v1h-1v1h-1v-1h-1v-1h-1v-1h-1v-1h1v-1h1v-1h1zM511 285h1v1h1v1h1v1h1v1h-1v1h-1v1h-1v1h-1v-1h-1v-1h-1v-1h-1v-1h1v-1h1v-1h1zM514 276h1v1h1v1h1v1h1v1h-1v1h-1v1h-1v1h-1v-1h-1v-1h-1v-1h-1v-1h1v-1h1v-1h1zM517 283h1v1h1v1h1v1h1v1h-1v1h-1v1h-1v1h-1v-1h-1v-1h-1v-1h-1v-1h1v-1h1v-1h1zM520 277h1v1h1v1h1v1h1v1h-1v1h-1v1h-1v1h-1v-1h-1v-1h-1v-1h-1v-1h1v-1h1v-1h1zM524 274h1v1h1v1h1v1h1v1h-1v1h-1v1h-1v1h-1v-1h-1v-1h-1v-1h-1v-1h1v-1h1v-1h1zM527 273h1v1h1v1h1v1h1v1h-1v1h-1v1h-1v1h-1v-1h-1v-1h-1v-1h-1v-1h1v-1h1v-1h1zM530 273h1v1h1v1h1v1h1v1h-1v1h-1v1h-1v1h-1v-1h-1v-1h-1v-1h-1v-1h1v-1h1v-1h1zM533 279h1v1h1v1h1v1h1v1h-1v1h-1v1h-1v1h-1v-1h-1v-1h-1v-1h-1v-1h1v-1h1v-1h1zM536 285h1v1h1v1h1v1h1v1h-1v1h-1v1h-1v1h-1v-1h-1v-1h-1v-1h-1v-1h1v-1h1v-1h1zM539 284h1v1h1v1h1v1h1v1h-1v1h-1v1h-1v1h-1v-1h-1v-1h-1v-1h-1v-1h1v-1h1v-1h1zM542 282h1v1h1v1h1v1h1v1h-1v1h-1v1h-1v1h-1v-1h-1v-1h-1v-1h-1v-1h1v-1h1v-1h1zM545 283h1v1h1v1h1v1h1v1h-1v1h-1v1h-1v1h-1v-1h-1v-1h-1v-1h-1v-1h1v-1h1v-1h1zM549 277h1v1h1v1h1v1h1v1h-1v1h-1v1h-1v1h-1v-1h-1v-1h-1v-1h-1v-1h1v-1h1v-1h1zM552 281h1v1h1v1h1v1h1v1h-1v1h-1v1h-1v1h-1v-1h-1v-1h-1v-1h-1v-1h1v-1h1v-1h1zM555 276h1v1h1v1h1v1h1v1h-1v1h-1v1h-1v1h-1v-1h-1v-1h-1v-1h-1v-1h1v-1h1v-1h1zM558 265h1v1h1v1h1v1h1v1h-1v1h-1v1h-1v1h-1v-1h-1v-1h-1v-1h-1v-1h1v-1h1v-1h1zM561 245h1v1h1v1h1v1h1v1h-1v1h-1v1h-1v1h-1v-1h-1v-1h-1v-1h-1v-1h1v-1h1v-1h1zM564 217h1v1h1v1h1v1h1v1h-1v1h-1v1h-1v1h-1v-1h-1v-1h-1v-1h-1v-1h1v-1h1v-1h1zM567 163h1v1h1v1h1v1h1v1h-1v1h-1v1h-1v1h-1v-1h-1v-1h-1v-1h-1v-1h1v-1h1v-1h1zM571 225h1v1h1v1h1v1h1v1h-1v1h-1v1h-1v1h-1v-1h-1v-1h-1v-1h-1v-1h1v-1h1v-1h1zM574 263h1v1h1v1h1v1h1v1h-1v1h-1v1h-1v1h-1v-1h-1v-1h-1v-1h-1v-1h1v-1h1v-1h1zM577 271h1v1h1v1h1v1h1v1h-1v1h-1v1h-1v1h-1v-1h-1v-1h-1v-1h-1v-1h1v-1h1v-1h1zM580 284h1v1h1v1h1v1h1v1h-1v1h-1v1h-1v1h-1v-1h-1v-1h-1v-1h-1v-1h1v-1h1v-1h1zM583 285h1v1h1v1h1v1h1v1h-1v1h-1v1h-1v1h-1v-1h-1v-1h-1v-1h-1v-1h1v-1h1v-1h1zM586 286h1v1h1v1h1v1h1v1h-1v1h-1v1h-1v1h-1v-1h-1v-1h-1v-1h-1v-1h1v-1h1v-1h1zM589 285h1v1h1v1h1v1h1v1h-1v1h-1v1h-1v1h-1v-1h-1v-1h-1v-1h-1v-1h1v-1h1v-1h1zM592 292h1v1h1v1h1v1h1v1h-1v1h-1v1h-1v1h-1v-1h-1v-1h-1v-1h-1v-1h1v-1h1v-1h1zM596 283h1v1h1v1h1v1h1v1h-1v1h-1v1h-1v1h-1v-1h-1v-1h-1v-1h-1v-1h1v-1h1v-1h1zM599 283h1v1h1v1h1v1h1v1h-1v1h-1v1h-1v1h-1v-1h-1v-1h-1v-1h-1v-1h1v-1h1v-1h1zM602 287h1v1h1v1h1v1h1v1h-1v1h-1v1h-1v1h-1v-1h-1v-1h-1v-1h-1v-1h1v-1h1v-1h1zM605 256h1v1h1v1h1v1h1v1h-1v1h-1v1h-1v1h-1v-1h-1v-1h-1v-1h-1v-1h1v-1h1v-1h1zM608 276h1v1h1v1h1v1h1v1h-1v1h-1v1h-1v1h-1v-1h-1v-1h-1v-1h-1v-1h1v-1h1v-1h1zM611 283h1v1h1v1h1v1h1v1h-1v1h-1v1h-1v1h-1v-1h-1v-1h-1v-1h-1v-1h1v-1h1v-1h1zM614 288h1v1h1v1h1v1h1v1h-1v1h-1v1h-1v1h-1v-1h-1v-1h-1v-1h-1v-1h1v-1h1v-1h1zM617 284h1v1h1v1h1v1h1v1h-1v1h-1v1h-1v1h-1v-1h-1v-1h-1v-1h-1v-1h1v-1h1v-1h1zM621 284h1v1h1v1h1v1h1v1h-1v1h-1v1h-1v1h-1v-1h-1v-1h-1v-1h-1v-1h1v-1h1v-1h1zM624 282h1v1h1v1h1v1h1v1h-1v1h-1v1h-1v1h-1v-1h-1v-1h-1v-1h-1v-1h1v-1h1v-1h1zM627 285h1v1h1v1h1v1h1v1h-1v1h-1v1h-1v1h-1v-1h-1v-1h-1v-1h-1v-1h1v-1h1v-1h1zM630 287h1v1h1v1h1v1h1v1h-1v1h-1v1h-1v1h-1v-1h-1v-1h-1v-1h-1v-1h1v-1h1v-1h1zM633 290h1v1h1v1h1v1h1v1h-1v1h-1v1h-1v1h-1v-1h-1v-1h-1v-1h-1v-1h1v-1h1v-1h1zM636 281h1v1h1v1h1v1h1v1h-1v1h-1v1h-1v1h-1v-1h-1v-1h-1v-1h-1v-1h1v-1h1v-1h1zM639 279h1v1h1v1h1v1h1v1h-1v1h-1v1h-1v1h-1v-1h-1v-1h-1v-1h-1v-1h1v-1h1v-1h1zM642 285h1v1h1v1h1v1h1v1h-1v1h-1v1h-1v1h-1v-1h-1v-1h-1v-1h-1v-1h1v-1h1v-1h1zM646 283h1v1h1v1h1v1h1v1h-1v1h-1v1h-1v1h-1v-1h-1v-1h-1v-1h-1v-1h1v-1h1v-1h1zM649 278h1v1h1v1h1v1h1v1h-1v1h-1v1h-1v1h-1v-1h-1v-1h-1v-1h-1v-1h1v-1h1v-1h1zM652 265h1v1h1v1h1v1h1v1h-1v1h-1v1h-1v1h-1v-1h-1v-1h-1v-1h-1v-1h1v-1h1v-1h1zM655 263h1v1h1v1h1v1h1v1h-1v1h-1v1h-1v1h-1v-1h-1v-1h-1v-1h-1v-1h1v-1h1v-1h1zM658 233h1v1h1v1h1v1h1v1h-1v1h-1v1h-1v1h-1v-1h-1v-1h-1v-1h-1v-1h1v-1h1v-1h1zM661 168h1v1h1v1h1v1h1v1h-1v1h-1v1h-1v1h-1v-1h-1v-1h-1v-1h-1v-1h1v-1h1v-1h1zM664 221h1v1h1v1h1v1h1v1h-1v1h-1v1h-1v1h-1v-1h-1v-1h-1v-1h-1v-1h1v-1h1v-1h1zM668 279h1v1h1v1h1v1h1v1h-1v1h-1v1h-1v1h-1v-1h-1v-1h-1v-1h-1v-1h1v-1h1v-1h1zM671 297h1v1h1v1h1v1h1v1h-1v1h-1v1h-1v1h-1v-1h-1v-1h-1v-1h-1v-1h1v-1h1v-1h1zM674 292h1v1h1v1h1v1h1v1h-1v1h-1v1h-1v1h-1v-1h-1v-1h-1v-1h-1v-1h1v-1h1v-1h1zM677 284h1v1h1v1h1v1h1v1h-1v1h-1v1h-1v1h-1v-1h-1v-1h-1v-1h-1v-1h1v-1h1v-1h1zM680 293h1v1h1v1h1v1h1v1h-1v1h-1v1h-1v1h-1v-1h-1v-1h-1v-1h-1v-1h1v-1h1v-1h1zM683 286h1v1h1v1h1v1h1v1h-1v1h-1v1h-1v1h-1v-1h-1v-1h-1v-1h-1v-1h1v-1h1v-1h1zM686 278h1v1h1v1h1v1h1v1h-1v1h-1v1h-1v1h-1v-1h-1v-1h-1v-1h-1v-1h1v-1h1v-1h1zM689 295h1v1h1v1h1v1h1v1h-1v1h-1v1h-1v1h-1v-1h-1v-1h-1v-1h-1v-1h1v-1h1v-1h1zM693 289h1v1h1v1h1v1h1v1h-1v1h-1v1h-1v1h-1v-1h-1v-1h-1v-1h-1v-1h1v-1h1v-1h1zM696 292h1v1h1v1h1v1h1v1h-1v1h-1v1h-1v1h-1v-1h-1v-1h-1v-1h-1v-1h1v-1h1v-1h1zM699 292h1v1h1v1h1v1h1v1h-1v1h-1v1h-1v1h-1v-1h-1v-1h-1v-1h-1v-1h1v-1h1v-1h1zM702 298h1v1h1v1h1v1h1v1h-1v1h-1v1h-1v1h-1v-1h-1v-1h-1v-1h-1v-1h1v-1h1v-1h1zM705 285h1v1h1v1h1v1h1v1h-1v1h-1v1h-1v1h-1v-1h-1v-1h-1v-1h-1v-1h1v-1h1v-1h1zM708 281h1v1h1v1h1v1h1v1h-1v1h-1v1h-1v1h-1v-1h-1v-1h-1v-1h-1v-1h1v-1h1v-1h1zM711 279h1v1h1v1h1v1h1v1h-1v1h-1v1h-1v1h-1v-1h-1v-1h-1v-1h-1v-1h1v-1h1v-1h1zM714 294h1v1h1v1h1v1h1v1h-1v1h-1v1h-1v1h-1v-1h-1v-1h-1v-1h-1v-1h1v-1h1v-1h1zM718 286h1v1h1v1h1v1h1v1h-1v1h-1v1h-1v1h-1v-1h-1v-1h-1v-1h-1v-1h1v-1h1v-1h1zM721 291h1v1h1v1h1v1h1v1h-1v1h-1v1h-1v1h-1v-1h-1v-1h-1v-1h-1v-1h1v-1h1v-1h1zM724 290h1v1h1v1h1v1h1v1h-1v1h-1v1h-1v1h-1v-1h-1v-1h-1v-1h-1v-1h1v-1h1v-1h1zM727 288h1v1h1v1h1v1h1v1h-1v1h-1v1h-1v1h-1v-1h-1v-1h-1v-1h-1v-1h1v-1h1v-1h1zM730 276h1v1h1v1h1v1h1v1h-1v1h-1v1h-1v1h-1v-1h-1v-1h-1v-1h-1v-1h1v-1h1v-1h1zM733 295h1v1h1v1h1v1h1v1h-1v1h-1v1h-1v1h-1v-1h-1v-1h-1v-1h-1v-1h1v-1h1v-1h1zM736 284h1v1h1v1h1v1h1v1h-1v1h-1v1h-1v1h-1v-1h-1v-1h-1v-1h-1v-1h1v-1h1v-1h1zM739 281h1v1h1v1h1v1h1v1h-1v1h-1v1h-1v1h-1v-1h-1v-1h-1v-1h-1v-1h1v-1h1v-1h1zM743 291h1v1h1v1h1v1h1v1h-1v1h-1v1h-1v1h-1v-1h-1v-1h-1v-1h-1v-1h1v-1h1v-1h1zM746 286h1v1h1v1h1v1h1v1h-1v1h-1v1h-1v1h-1v-1h-1v-1h-1v-1h-1v-1h1v-1h1v-1h1zM749 252h1v1h1v1h1v1h1v1h-1v1h-1v1h-1v1h-1v-1h-1v-1h-1v-1h-1v-1h1v-1h1v-1h1zM752 220h1v1h1v1h1v1h1v1h-1v1h-1v1h-1v1h-1v-1h-1v-1h-1v-1h-1v-1h1v-1h1v-1h1zM755 169h1v1h1v1h1v1h1v1h-1v1h-1v1h-1v1h-1v-1h-1v-1h-1v-1h-1v-1h1v-1h1v-1h1zM758 209h1v1h1v1h1v1h1v1h-1v1h-1v1h-1v1h-1v-1h-1v-1h-1v-1h-1v-1h1v-1h1v-1h1zM761 257h1v1h1v1h1v1h1v1h-1v1h-1v1h-1v1h-1v-1h-1v-1h-1v-1h-1v-1h1v-1h1v-1h1zM765 249h1v1h1v1h1v1h1v1h-1v1h-1v1h-1v1h-1v-1h-1v-1h-1v-1h-1v-1h1v-1h1v-1h1zM768 295h1v1h1v1h1v1h1v1h-1v1h-1v1h-1v1h-1v-1h-1v-1h-1v-1h-1v-1h1v-1h1v-1h1zM771 288h1v1h1v1h1v1h1v1h-1v1h-1v1h-1v1h-1v-1h-1v-1h-1v-1h-1v-1h1v-1h1v-1h1zM774 302h1v1h1v1h1v1h1v1h-1v1h-1v1h-1v1h-1v-1h-1v-1h-1v-1h-1v-1h1v-1h1v-1h1zM777 283h1v1h1v1h1v1h1v1h-1v1h-1v1h-1v1h-1v-1h-1v-1h-1v-1h-1v-1h1v-1h1v-1h1zM780 290h1v1h1v1h1v1h1v1h-1v1h-1v1h-1v1h-1v-1h-1v-1h-1v-1h-1v-1h1v-1h1v-1h1zM783 300h1v1h1v1h1v1h1v1h-1v1h-1v1h-1v1h-1v-1h-1v-1h-1v-1h-1v-1h1v-1h1v-1h1zM786 289h1v1h1v1h1v1h1v1h-1v1h-1v1h-1v1h-1v-1h-1v-1h-1v-1h-1v-1h1v-1h1v-1h1zM790 297h1v1h1v1h1v1h1v1h-1v1h-1v1h-1v1h-1v-1h-1v-1h-1v-1h-1v-1h1v-1h1v-1h1zM793 295h1v1h1v1h1v1h1v1h-1v1h-1v1h-1v1h-1v-1h-1v-1h-1v-1h-1v-1h1v-1h1v-1h1zM796 310h1v1h1v1h1v1h1v1h-1v1h-1v1h-1v1h-1v-1h-1v-1h-1v-1h-1v-1h1v-1h1v-1h1zM799 299h1v1h1v1h1v1h1v1h-1v1h-1v1h-1v1h-1v-1h-1v-1h-1v-1h-1v-1h1v-1h1v-1h1zM802 288h1v1h1v1h1v1h1v1h-1v1h-1v1h-1v1h-1v-1h-1v-1h-1v-1h-1v-1h1v-1h1v-1h1zM805 283h1v1h1v1h1v1h1v1h-1v1h-1v1h-1v1h-1v-1h-1v-1h-1v-1h-1v-1h1v-1h1v-1h1zM808 295h1v1h1v1h1v1h1v1h-1v1h-1v1h-1v1h-1v-1h-1v-1h-1v-1h-1v-1h1v-1h1v-1h1zM811 294h1v1h1v1h1v1h1v1h-1v1h-1v1h-1v1h-1v-1h-1v-1h-1v-1h-1v-1h1v-1h1v-1h1zM815 298h1v1h1v1h1v1h1v1h-1v1h-1v1h-1v1h-1v-1h-1v-1h-1v-1h-1v-1h1v-1h1v-1h1zM818 303h1v1h1v1h1v1h1v1h-1v1h-1v1h-1v1h-1v-1h-1v-1h-1v-1h-1v-1h1v-1h1v-1h1zM821 290h1v1h1v1h1v1h1v1h-1v1h-1v1h-1v1h-1v-1h-1v-1h-1v-1h-1v-1h1v-1h1v-1h1zM824 282h1v1h1v1h1v1h1v1h-1v1h-1v1h-1v1h-1v-1h-1v-1h-1v-1h-1v-1h1v-1h1v-1h1zM827 272h1v1h1v1h1v1h1v1h-1v1h-1v1h-1v1h-1v-1h-1v-1h-1v-1h-1v-1h1v-1h1v-1h1zM830 293h1v1h1v1h1v1h1v1h-1v1h-1v1h-1v1h-1v-1h-1v-1h-1v-1h-1v-1h1v-1h1v-1h1zM833 293h1v1h1v1h1v1h1v1h-1v1h-1v1h-1v1h-1v-1h-1v-1h-1v-1h-1v-1h1v-1h1v-1h1zM836 296h1v1h1v1h1v1h1v1h-1v1h-1v1h-1v1h-1v-1h-1v-1h-1v-1h-1v-1h1v-1h1v-1h1zM840 294h1v1h1v1h1v1h1v1h-1v1h-1v1h-1v1h-1v-1h-1v-1h-1v-1h-1v-1h1v-1h1v-1h1zM843 263h1v1h1v1h1v1h1v1h-1v1h-1v1h-1v1h-1v-1h-1v-1h-1v-1h-1v-1h1v-1h1v-1h1zM846 239h1v1h1v1h1v1h1v1h-1v1h-1v1h-1v1h-1v-1h-1v-1h-1v-1h-1v-1h1v-1h1v-1h1zM849 177h1v1h1v1h1v1h1v1h-1v1h-1v1h-1v1h-1v-1h-1v-1h-1v-1h-1v-1h1v-1h1v-1h1z" fill="#000080" shape-rendering="crispEdges"/>
<g filter="url(#al)">
<text x="298" y="34" textLength="275" lengthAdjust="spacing" class="ttl">Time Distribution of Updates (Seconds)</text>
<text x="303.5" y="516" textLength="337" lengthAdjust="spacing" class="ax">Time Interval between updates of the same prefix (seconds)</text>
</g>
</svg>
<div id="yt"><svg width="115" height="20" style="display:block"><g filter="url(#al)"><text x="2" y="14" textLength="107" lengthAdjust="spacing" class="ax">Update Count (log)</text></g></svg></div>
</body></html>
